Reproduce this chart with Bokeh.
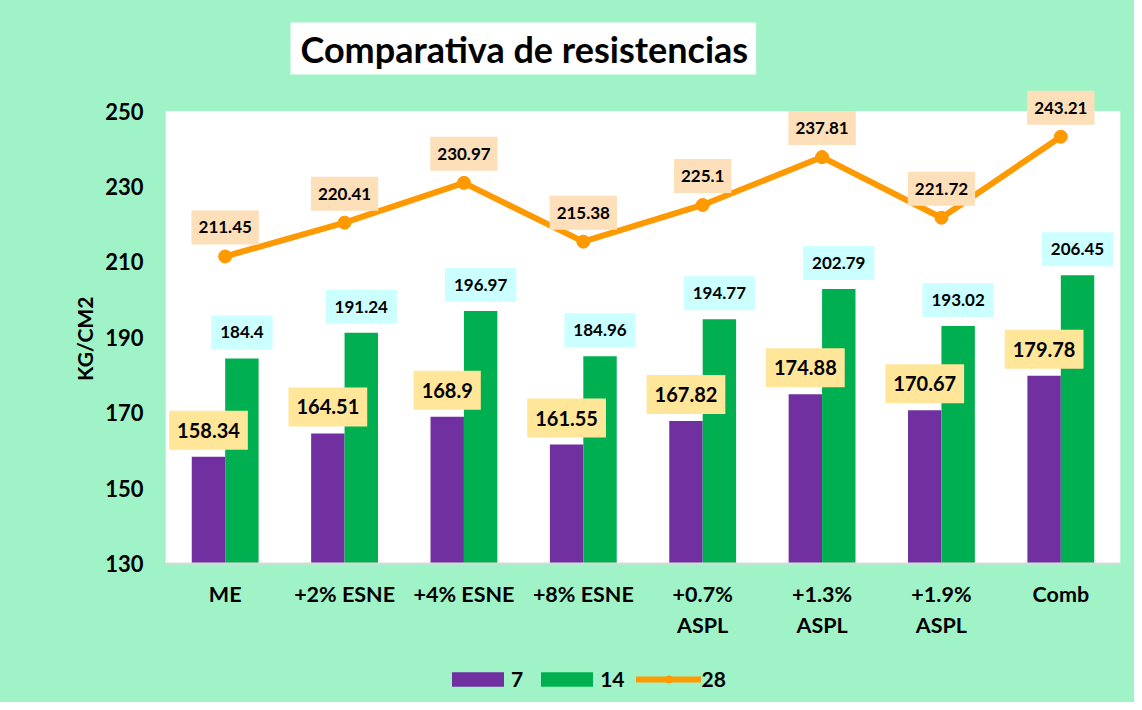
from bokeh.plotting import figure
from bokeh.models import ColumnDataSource, FactorRange, Legend, LegendItem, BoxAnnotation, FixedTicker, Title, Range1d
from bokeh.layouts import column
from bokeh.transform import dodge
from bokeh.core.properties import value
from bokeh.embed import file_html
from bokeh.resources import INLINE

categories = ["ME", "+2% ESNE", "+4% ESNE", "+8% ESNE", "+0.7%\nASPL", "+1.3%\nASPL", "+1.9%\nASPL", "Comb"]
v7 = [158.34, 164.51, 168.9, 161.55, 167.82, 174.88, 170.67, 179.78]
v14 = [184.4, 191.24, 196.97, 184.96, 194.77, 202.79, 193.02, 206.45]
v28 = [211.45, 220.41, 230.97, 215.38, 225.1, 237.81, 221.72, 243.21]
y_ticks = [130, 150, 170, 190, 210, 230, 250]
series_names = ["7", "14", "28"]
title_text = "Comparativa de resistencias"
y_label = "KG/CM2"

FONT = "Lato"
BG = "#A0F3C7"
PURPLE = "#7030A0"
GREEN = "#00B050"
ORANGE = "#FF9900"

src = ColumnDataSource(dict(
    cat=categories, v7=v7, v14=v14, v28=v28,
    t7=[str(v) for v in v7], t14=[str(v) for v in v14], t28=[str(v) for v in v28],
))

p = figure(x_range=FactorRange(*categories), y_range=(y_ticks[0], 256),
           width=1134, height=650, output_backend="svg", toolbar_location=None,
           min_border_left=165, min_border_right=14, min_border_top=88, min_border_bottom=87)
p.background_fill_color = BG
p.border_fill_color = BG
p.outline_line_color = None
p.xgrid.grid_line_color = None
p.ygrid.grid_line_color = None

p.add_layout(BoxAnnotation(bottom=y_ticks[0], top=y_ticks[-1], fill_color="white", fill_alpha=1,
                           line_color=None, level="underlay"))


def draw_series(fig):
    a = fig.vbar(x=dodge("cat", -0.14, range=fig.x_range), top="v7", bottom=y_ticks[0], width=0.28,
                 source=src, color=PURPLE, line_color=None)
    b = fig.vbar(x=dodge("cat", 0.14, range=fig.x_range), top="v14", bottom=y_ticks[0], width=0.28,
                 source=src, color=GREEN, line_color=None)
    c = fig.line(x="cat", y="v28", source=src, line_color=ORANGE, line_width=6, line_cap="round",
                 line_join="round")
    d = fig.scatter(x="cat", y="v28", source=src, size=13, color=ORANGE)
    return a, b, c, d


draw_series(p)

common = dict(source=src, text_font=value(FONT), text_font_style="bold", text_color="black",
              text_align="center", text_baseline="bottom")
p.text(x=dodge("cat", -0.14, range=p.x_range), y="v7", text="t7", y_offset=-7,
       text_font_size="20px", background_fill_color="#FFE699",
       padding=dict(left=8, right=8, top=12, bottom=12), **common)
p.text(x=dodge("cat", 0.14, range=p.x_range), y="v14", text="t14", y_offset=-9,
       text_font_size="17px", background_fill_color="#CCFFFF",
       padding=dict(left=9, right=9, top=11, bottom=11), **common)
p.text(x="cat", y="v28", text="t28", y_offset=-12,
       text_font_size="17px", background_fill_color="#FDDFBA",
       padding=dict(left=7, right=7, top=11, bottom=11), **common)

p.yaxis.ticker = FixedTicker(ticks=y_ticks)
p.yaxis.axis_line_color = None
p.yaxis.major_tick_line_color = None
p.yaxis.minor_tick_line_color = None
p.yaxis.major_label_text_font = FONT
p.yaxis.major_label_text_font_style = "bold"
p.yaxis.major_label_text_font_size = "22px"
p.yaxis.major_label_text_color = "black"
p.yaxis.major_label_standoff = 16
# trailing no-break spaces centre the visible label on the white plot area
p.yaxis.axis_label = y_label + "\u00a0" * 5
p.yaxis.axis_label_text_font = FONT
p.yaxis.axis_label_text_font_style = "bold"
p.yaxis.axis_label_text_font_size = "21px"
p.yaxis.axis_label_text_color = "black"
p.yaxis.axis_label_standoff = 5

p.xaxis.axis_line_color = "#D9D9D9"
p.xaxis.axis_line_width = 2
p.xaxis.major_tick_line_color = None
p.xaxis.minor_tick_line_color = None
p.xaxis.major_label_text_font = FONT
p.xaxis.major_label_text_font_style = "bold"
p.xaxis.major_label_text_font_size = "21.5px"
p.xaxis.major_label_text_color = "black"
p.xaxis.major_label_standoff = 11

title = Title(text=title_text, text_font=FONT, text_font_style="bold", text_font_size="36px",
              text_color="black", background_fill_color="white", align="left", offset=125,
              padding=dict(left=10, right=8, top=4, bottom=4), standoff=28)
p.add_layout(title, "above")

# legend strip below the chart (series drawn off-range, only their legend glyphs show)
lg = figure(width=1134, height=52, output_backend="svg", toolbar_location=None,
            x_range=FactorRange(*categories), y_range=Range1d(1000, 1001), min_border=0,
            x_axis_location=None, y_axis_location=None)
lg.background_fill_color = BG
lg.border_fill_color = BG
lg.outline_line_color = None
lg.xgrid.grid_line_color = None
lg.ygrid.grid_line_color = None
l7, l14, l28l, l28s = draw_series(lg)
legend = Legend(items=[LegendItem(label=series_names[0], renderers=[l7]),
                       LegendItem(label=series_names[1], renderers=[l14]),
                       LegendItem(label=series_names[2], renderers=[l28l, l28s])],
                orientation="horizontal", location=(280, 11),
                glyph_width=65, glyph_height=18, label_text_font=FONT, label_text_font_style="bold",
                label_text_font_size="21px", label_text_color="black", spacing=11, label_width=0,
                label_standoff=1, background_fill_alpha=0, border_line_alpha=0, margin=0, padding=0)
lg.add_layout(legend, "center")

layout = column(p, lg, spacing=0, styles={"background-color": BG})
open("out.html", "w").write(file_html(layout, INLINE))
